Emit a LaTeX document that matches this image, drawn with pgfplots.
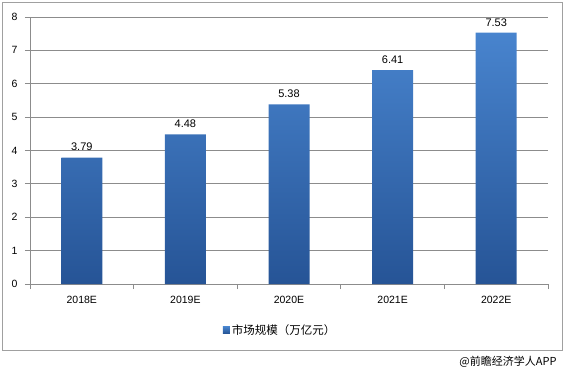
\documentclass[border=0pt]{standalone}
\usepackage{fontspec}
\setmainfont{Liberation Sans}
\newfontfamily\cjk{Noto Sans CJK SC}
\usepackage{pgfplots}
\pgfplotsset{compat=1.18}
\definecolor{bartop}{RGB}{72,132,206}
\definecolor{barbot}{RGB}{38,84,150}
\definecolor{gridc}{RGB}{140,140,140}
\definecolor{framec}{RGB}{160,160,160}
\begin{document}
\begin{tikzpicture}
\path[use as bounding box] (0pt,0pt) rectangle (564pt,-375pt);
\draw[framec, line width=1pt] (2pt,-2pt) rectangle (562pt,-350pt);
\begin{axis}[
  at={(30pt,-284pt)}, anchor=south west,
  scale only axis, width=518pt, height=267pt,
  xmin=-0.5, xmax=4.5, ymin=0, ymax=8,
  axis x line*=bottom, axis y line*=left,
  axis line style={gridc, line width=0.8pt},
  xtick={0,1,2,3,4},
  xticklabels={2018E,2019E,2020E,2021E,2022E},
  major x tick style={draw=none},
  minor xtick={-0.5,0.5,1.5,2.5,3.5,4.5},
  minor x tick style={gridc, line width=0.8pt},
  minor tick length=5pt,
  ytick={0,1,...,8},
  ytick style={gridc, line width=0.8pt},
  major tick length=5pt,
  tick align=outside,
  ymajorgrids, grid style={gridc, line width=0.8pt},
  /pgf/number format/assume math mode=true,
  tick label style={font=\fontsize{10.5}{12}\selectfont, text=black},
  yticklabel style={xshift=-4pt},
  xticklabel style={yshift=-4pt},
  nodes near coords,
  nodes near coords style={yshift=3pt, font=\fontsize{11}{13}\selectfont, text=black, /pgf/number format/.cd, fixed, fixed zerofill, precision=2, assume math mode=true},
  legend style={at={(0.483,-0.172)}, anchor=center, draw=none, fill=none,
    font=\cjk\fontsize{11.5}{13}\selectfont, legend cell align=left,
    /tikz/every even column/.append style={column sep=2pt}},
  legend image code/.code={\fill[bartop!70!barbot] (0pt,-3.5pt) rectangle (7pt,3.5pt);},
]
\addplot[ybar, bar width=41pt, draw=none, top color=bartop, bottom color=barbot]
  coordinates {(0,3.79) (1,4.48) (2,5.38) (3,6.41) (4,7.53)};
\addlegendentry{市场规模（万亿元）}
\end{axis}
\node[anchor=east, font=\cjk\fontsize{11}{13}\selectfont] at (560pt,-362pt) {@前瞻经济学人APP};
\end{tikzpicture}
\end{document}
